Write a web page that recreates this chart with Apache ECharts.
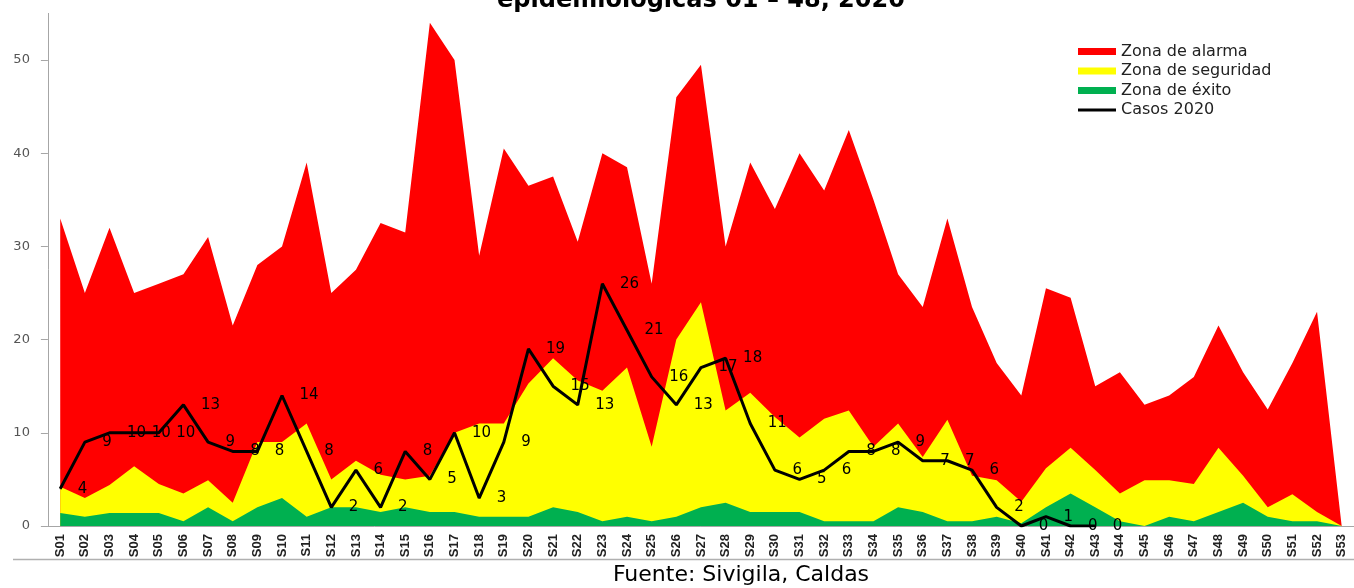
<!DOCTYPE html>
<html><head><meta charset="utf-8">
<script src="https://cdn.jsdelivr.net/npm/echarts@6/dist/echarts.min.js"></script>
<style>html,body{margin:0;padding:0;background:#fff}#c{width:1354px;height:588px}</style>
</head><body><div id="c"></div>
<script>
const categories = ['S01','S02','S03','S04','S05','S06','S07','S08','S09','S10',
  'S11','S12','S13','S14','S15','S16','S17','S18','S19','S20',
  'S21','S22','S23','S24','S25','S26','S27','S28','S29','S30',
  'S31','S32','S33','S34','S35','S36','S37','S38','S39','S40',
  'S41','S42','S43','S44','S45','S46','S47','S48','S49','S50',
  'S51','S52','S53'];
const alarma = [33,25,32,25,26,27,31,21.5,28,30,
  39,25,27.5,32.5,31.5,54,50,29,40.5,36.5,
  37.5,30.5,40,38.5,26,46,49.5,30,39,34,
  40,36,42.5,35,27,23.5,33,23.5,17.5,14,
  25.5,24.5,15,16.5,13,14,16,21.5,16.5,12.5,
  17.5,23,0];
const seguridad = [4.2,3,4.4,6.4,4.5,3.5,4.9,2.5,9,9,
  11,5,7,5.5,5,5.4,10,11,11,15.3,
  18,15.6,14.5,17,8.5,20,24,12.4,14.3,11.7,
  9.5,11.5,12.4,8.5,11,7.4,11.4,5.4,4.9,2.6,
  6.2,8.4,6,3.5,4.9,4.9,4.5,8.4,5.4,2,
  3.4,1.5,0];
const exito = [1.4,1,1.4,1.4,1.4,0.5,2,0.5,2,3,
  1,2,2,1.5,2,1.5,1.5,1,1,1,
  2,1.5,0.5,1,0.5,1,2,2.5,1.5,1.5,
  1.5,0.5,0.5,0.5,2,1.5,0.5,0.5,1,0.3,
  2,3.5,2,0.5,0,1,0.5,1.5,2.5,1,
  0.5,0.5,0];
const casos = [4,9,10,10,10,13,9,8,8,14,
  8,2,6,2,8,5,10,3,9,19,
  15,13,26,21,16,13,17,18,11,6,
  5,6,8,8,9,7,7,6,2,0,
  1,0,0];
const yTicks = [0,10,20,30,40,50];
const seriesNames = ['Zona de alarma','Zona de seguridad','Zona de éxito','Casos 2020'];
const titleText = 'epidemiológicas 01 – 48, 2020';
const sourceText = 'Fuente: Sivigila, Caldas';

const chart = echarts.init(document.getElementById('c'), null, {renderer:'canvas'});
function areaSeries(name, data, color){
  return {name:name, type:'line', data:data, symbol:'none', showSymbol:false,
    lineStyle:{width:0, color:color}, itemStyle:{color:color},
    areaStyle:{color:color, opacity:1}, emphasis:{disabled:true}, silent:true};
}
chart.setOption({
  animation:false,
  grid:{left:47.9, right:-9.3, top:13.4, bottom:62},
  xAxis:{type:'category', data:categories, boundaryGap:true,
    axisLine:{lineStyle:{color:'#a6a6a6'}}, axisTick:{show:false},
    axisLabel:{rotate:90, margin:8, interval:0, fontFamily:'Liberation Sans', fontWeight:'bold', fontSize:13, color:'#222'}},
  yAxis:{type:'value', min:0, max:55, interval:10, splitLine:{show:false},
    axisLine:{show:true, lineStyle:{color:'#a6a6a6'}},
    axisTick:{show:true, length:7, lineStyle:{color:'#a6a6a6'}, customValues:yTicks},
    axisLabel:{customValues:yTicks, margin:18, fontFamily:'DejaVu Sans', fontSize:13, color:'#555'}},
  legend:{orient:'vertical', left:1078, top:43.5, padding:0, itemWidth:38, itemHeight:7, itemGap:3.5,
    selectedMode:false, symbolKeepAspect:true,
    textStyle:{fontFamily:'DejaVu Sans', fontSize:16, lineHeight:16, color:'#222'},
    data:[{name:seriesNames[0], icon:'rect'},{name:seriesNames[1], icon:'rect'},{name:seriesNames[2], icon:'rect'},
      {name:seriesNames[3], icon:'path://M0,0H40V3H0Z', itemStyle:{color:'#000'}}]},
  series:[
    areaSeries(seriesNames[0], alarma, '#ff0000'),
    areaSeries(seriesNames[1], seguridad, '#ffff00'),
    areaSeries(seriesNames[2], exito, '#00b050'),
    {name:seriesNames[3], type:'line', data:casos, symbol:'circle', symbolSize:1, showSymbol:true,
      lineStyle:{width:3, color:'#000'}, itemStyle:{color:'#000'}, emphasis:{disabled:true}, z:5,
      label:{show:true, position:'right', distance:17, fontFamily:'DejaVu Sans', fontSize:15, color:'#000'}}
  ],
  graphic:[
    {type:'text', x:701, y:1, style:{text:titleText, fontFamily:'DejaVu Sans', fontWeight:'bold', fontSize:24, align:'center', verticalAlign:'middle', fill:'#000'}},
    {type:'text', x:741, y:575, style:{text:sourceText, fontFamily:'DejaVu Sans', fontSize:22, align:'center', verticalAlign:'middle', fill:'#000'}},
    {type:'line', shape:{x1:13, y1:559.5, x2:1354, y2:559.5}, style:{stroke:'#b0b0b0', lineWidth:1.5}}
  ]
});
</script></body></html>
